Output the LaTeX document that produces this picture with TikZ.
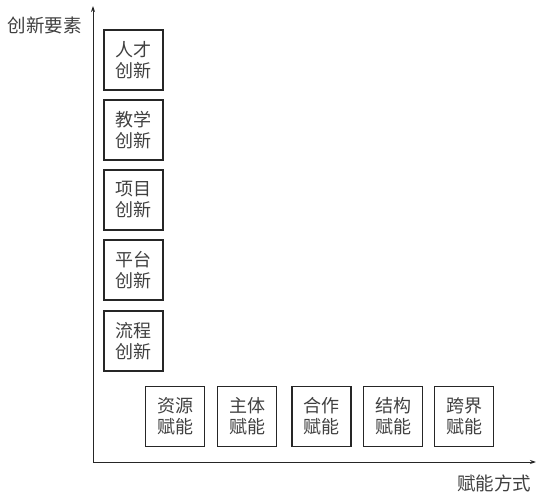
\documentclass[tikz,border=0pt]{standalone}
\usepackage{fontspec}
\setmainfont{Noto Sans CJK SC}
\usetikzlibrary{arrows.meta}
\begin{document}
\begin{tikzpicture}[x=1pt,y=-1pt,
  elem/.style={draw=black!85,line width=1.2pt,minimum width=59pt,minimum height=60pt,inner sep=0pt,align=center,font=\fontsize{18}{21}\selectfont,text=black!75},
  axis/.style={draw=black!85,line width=1pt,-{Stealth[length=6pt,width=4pt]}},
  lbl/.style={font=\fontsize{18.5}{22}\selectfont,text=black!75,inner sep=0pt}]
\useasboundingbox (0,0) rectangle (536,492);
\coordinate (o) at (93,462);
\coordinate (ytop) at (93,6);
\coordinate (xend) at (536,462);
\draw[axis] (o) -- (ytop);
\draw[axis] (o) -- (xend);
\node[lbl] (ylab) at (45,25) {创新要素};
\node[lbl] (xlab) at (494,483) {赋能方式};
\node[elem] (a1) at (133.5,60) {人才\\创新};
\node[elem] (a2) at (133.5,130) {教学\\创新};
\node[elem] (a3) at (133.5,200) {项目\\创新};
\node[elem] (a4) at (133.5,270) {平台\\创新};
\node[elem] (a5) at (133.5,341) {流程\\创新};
\node[elem] (b1) at (175,416.5) {资源\\赋能};
\node[elem] (b2) at (247,416.5) {主体\\赋能};
\node[elem] (b3) at (321.5,416.5) {合作\\赋能};
\node[elem] (b4) at (393,416.5) {结构\\赋能};
\node[elem] (b5) at (464,416.5) {跨界\\赋能};
\end{tikzpicture}
\end{document}
